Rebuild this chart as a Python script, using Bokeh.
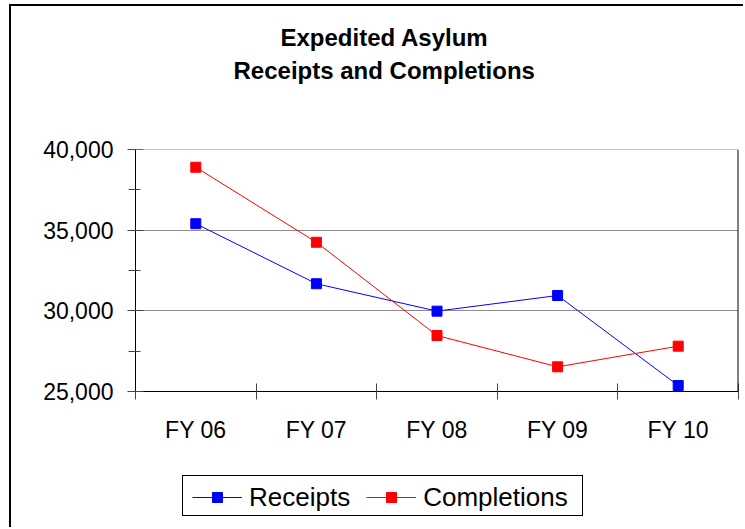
from bokeh.plotting import figure
from bokeh.models import (Range1d, FixedTicker, NumeralTickFormatter, Span, Title,
                          Legend, LegendItem)
from bokeh.embed import file_html
from bokeh.resources import INLINE

# ---- data ----
categories = ["FY 06", "FY 07", "FY 08", "FY 09", "FY 10"]
receipts = [35400, 31680, 29980, 30950, 25370]
completions = [38900, 34250, 28470, 26530, 27810]
y_ticks = [25000, 30000, 35000, 40000]
y_minor_ticks = [27500, 32500, 37500]
title_lines = ["Expedited Asylum", "Receipts and Completions"]
series_names = ["Receipts", "Completions"]
series_colors = ["#0000FF", "#FF0000"]

FONT = "Liberation Sans"

n = len(categories)
xs = [i + 0.5 for i in range(n)]          # category centres
bounds = [float(i) for i in range(n + 1)]  # category boundaries
series = [receipts, completions]

# ---------------- main chart ----------------
p = figure(width=734, height=523,
           x_range=Range1d(0, n), y_range=Range1d(y_ticks[0], y_ticks[-1]),
           output_backend="svg", toolbar_location=None,
           min_border_left=124, min_border_right=7,
           min_border_top=143, min_border_bottom=138)
p.styles = {"position": "absolute", "left": "9px", "top": "4px",
            "border-left": "2px solid black", "border-top": "2px solid black"}

p.outline_line_color = None
p.background_fill_color = "white"
p.border_fill_color = "white"

# grid
p.xgrid.visible = False
p.ygrid.ticker = FixedTicker(ticks=y_ticks)
p.ygrid.grid_line_color = "#8c8c8c"
p.ygrid.grid_line_width = 1
p.add_layout(Span(location=y_ticks[-1], dimension="width", line_color="#8c8c8c", line_width=1))

# x axis
xa = p.xaxis[0]
xa.ticker = FixedTicker(ticks=xs, minor_ticks=bounds)
xa.major_label_overrides = {x: c for x, c in zip(xs, categories)}
xa.major_tick_line_color = None
xa.major_tick_in = 0
xa.major_tick_out = 0
xa.minor_tick_line_color = "#444444"
xa.minor_tick_in = 8
xa.minor_tick_out = 8
xa.axis_line_color = "black"
xa.axis_line_width = 1
xa.major_label_standoff = 17
xa.major_label_text_font = FONT
xa.major_label_text_font_size = "23px"
xa.major_label_text_color = "black"

# y axis
ya = p.yaxis[0]
ya.ticker = FixedTicker(ticks=y_ticks, minor_ticks=y_minor_ticks)
ya.formatter = NumeralTickFormatter(format="0,0")
ya.major_tick_in = 8
ya.major_tick_out = 8
ya.minor_tick_in = 5
ya.minor_tick_out = 7
ya.major_tick_line_color = "#444444"
ya.minor_tick_line_color = "#444444"
ya.axis_line_color = "black"
ya.major_label_standoff = 14
ya.major_label_text_font = FONT
ya.major_label_text_font_size = "23px"
ya.major_label_text_color = "black"

# right border of plot area
p.add_layout(Span(location=n, dimension="height", line_color="black", line_width=2))

# series
for vals, col in zip(series, series_colors):
    p.line(xs, vals, line_color=col, line_width=1)
    p.scatter(xs, vals, marker="square", size=10, fill_color=col, line_color=col)

# title: spacer (closest to plot), then line 2, then line 1
p.add_layout(Title(text=" ", text_font=FONT, text_font_size="24px", standoff=36), "above")
p.add_layout(Title(text=title_lines[1], align="left", offset=98, vertical_align="middle",
                   text_font=FONT, text_font_size="24px", text_font_style="bold",
                   text_color="black", standoff=0), "above")
p.add_layout(Title(text=title_lines[0], align="left", offset=145, vertical_align="middle",
                   text_font=FONT, text_font_size="24px", text_font_style="bold",
                   text_color="black", standoff=8), "above")

# ---------------- legend box ----------------
lf = figure(width=401, height=41, x_range=Range1d(-20, -19), y_range=Range1d(0, 1),
            output_backend="svg", toolbar_location=None,
            min_border=0, x_axis_type=None, y_axis_type=None)
lf.styles = {"position": "absolute", "left": "182px", "top": "475px",
             "border": "1px solid black"}
lf.outline_line_color = None
lf.background_fill_color = "white"
lf.border_fill_color = "white"
lf.xgrid.visible = False
lf.ygrid.visible = False

items = []
for name, vals, col in zip(series_names, series, series_colors):
    r_line = lf.line(xs, vals, line_color=col, line_width=1)
    r_pts = lf.scatter(xs, vals, marker="square", size=10, fill_color=col, line_color=col)
    items.append(LegendItem(label=name, renderers=[r_line, r_pts]))

legend = Legend(items=items, orientation="horizontal", location="left",
                margin=9, padding=10, spacing=16, label_standoff=7,
                glyph_width=50, glyph_height=25, label_height=25,
                label_text_font=FONT, label_text_font_size="26px",
                label_text_color="black",
                border_line_color=None, background_fill_alpha=0)
lf.add_layout(legend, "center")

open("out.html", "w").write(file_html([p, lf], INLINE))
